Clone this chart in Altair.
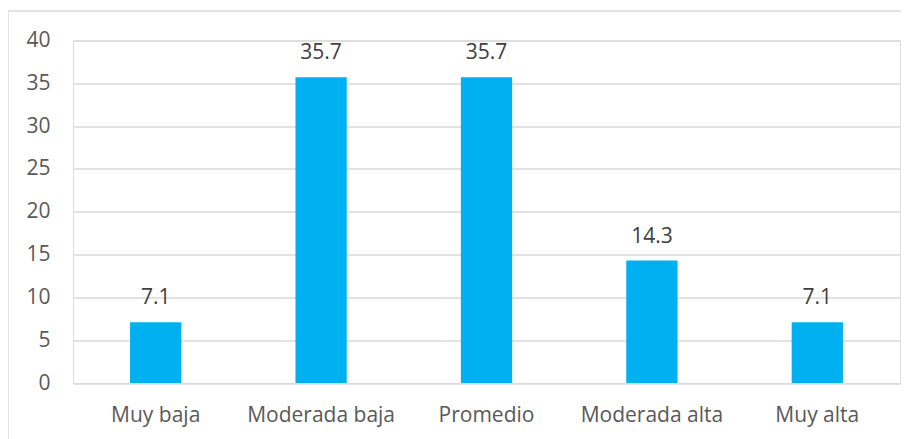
import altair as alt
import pandas as pd

categories = ["Muy baja", "Moderada baja", "Promedio", "Moderada alta", "Muy alta"]
values = [7.1, 35.7, 35.7, 14.3, 7.1]
labels = ["7.1", "35.7", "35.7", "14.3", "7.1"]

df = pd.DataFrame({"cat": categories, "val": values, "lab": labels})

FONT = "Open Sans"
FS = 21

x_enc = alt.X("cat:N", sort=categories,
              scale=alt.Scale(paddingInner=0.69, paddingOuter=0.345),
              axis=alt.Axis(title=None, labelAngle=0, domain=False, ticks=False, grid=False,
                            labelPadding=21, labelFont=FONT, labelFontSize=FS,
                            labelColor="#595959"))
y_enc = alt.Y("val:Q", scale=alt.Scale(domain=[0, 40]),
              axis=alt.Axis(title=None, values=[0, 5, 10, 15, 20, 25, 30, 35, 40],
                            domain=False, ticks=False, labelPadding=23,
                            labelFont=FONT, labelFontSize=FS, labelColor="#595959",
                            gridColor="#d9d9d9", gridWidth=1.3))

base = alt.Chart(df)

bars = base.mark_bar(color="#00B0F0").encode(x=x_enc, y=y_enc)

text = base.mark_text(dy=-18, baseline="alphabetic", font=FONT, fontSize=FS,
                      color="#404040").encode(x=alt.X("cat:N", sort=categories),
                                              y="val:Q", text="lab:N")

border = alt.Chart(pd.DataFrame({"a": [0]})).mark_rect(
    fill=None, stroke="#d9d9d9", strokeWidth=1.5, clip=False
).encode(x=alt.value(-65), x2=alt.value(850), y=alt.value(-29.5), y2=alt.value(420))

chart = alt.layer(border, bars, text).properties(
    width=827, height=342.5,
    padding={"left": 65, "top": 32.5, "right": 1, "bottom": 56},
    autosize=alt.AutoSizeParams(type="none"),
).configure_view(stroke="transparent", strokeWidth=0).configure(background="white")

chart.save("out.html", embed_options={"renderer": "svg", "actions": False})
